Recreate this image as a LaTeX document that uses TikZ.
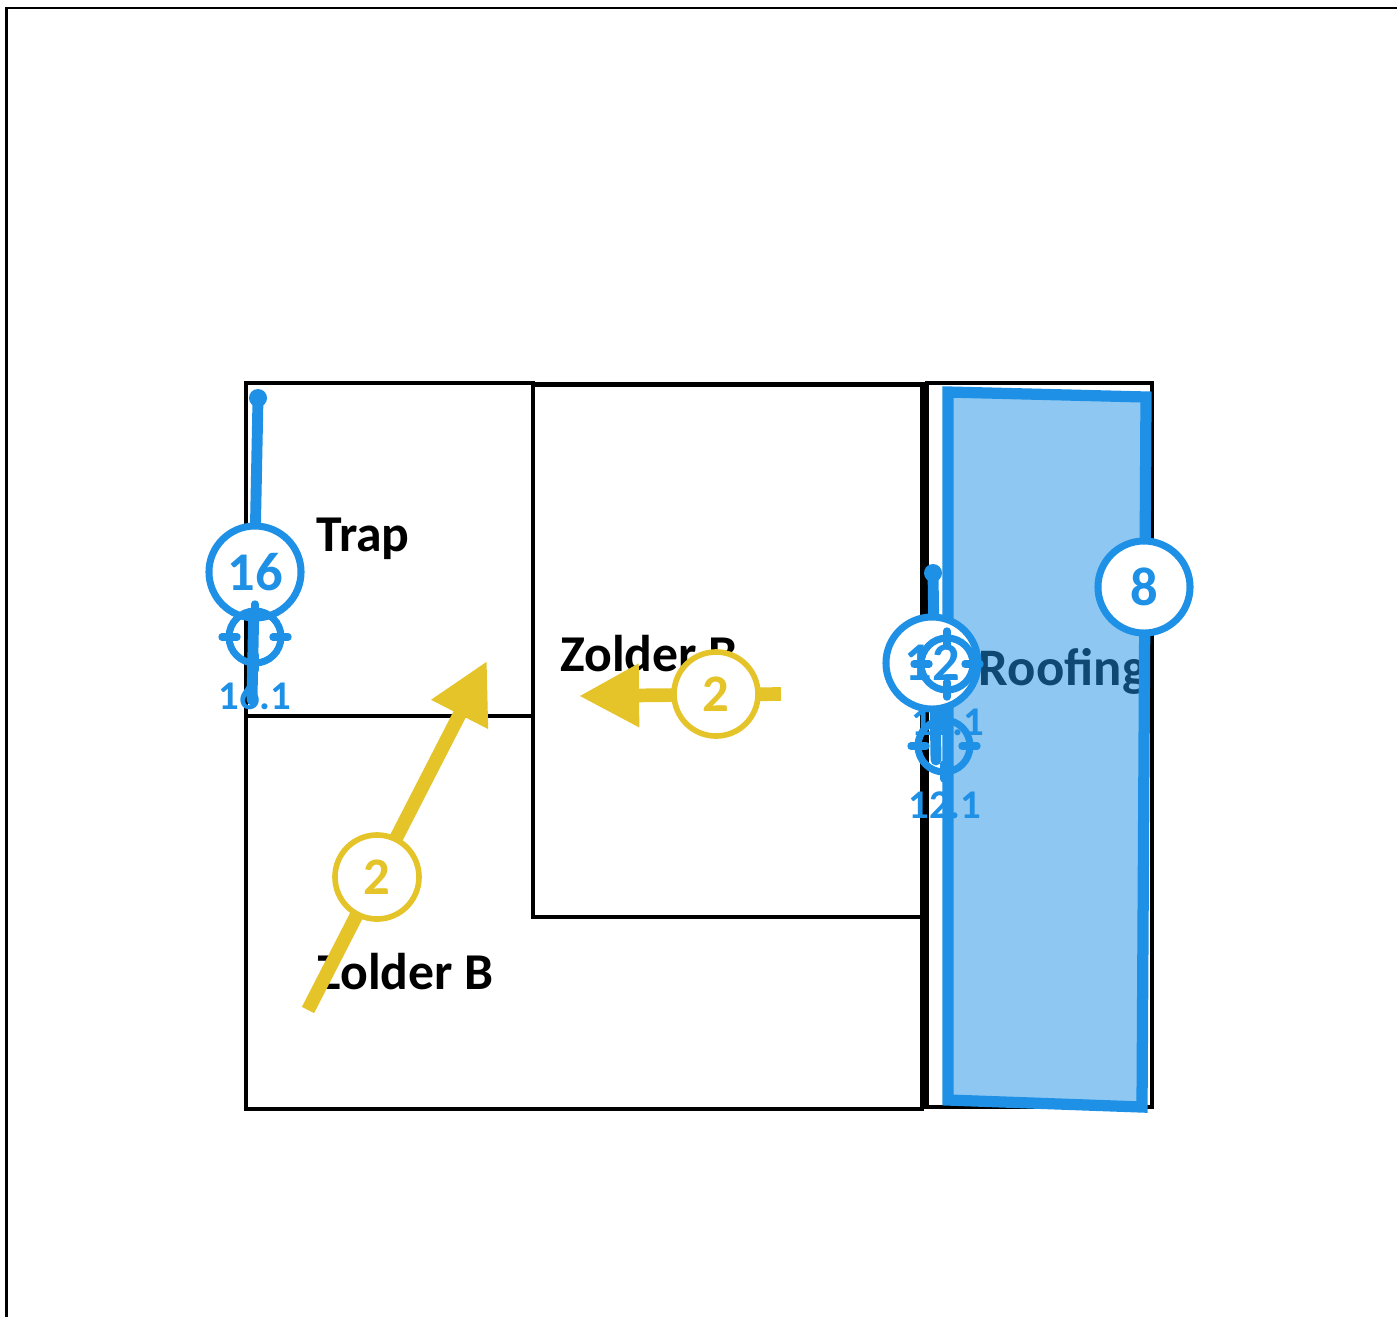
\documentclass[tikz,border=0pt]{standalone}
\usepackage{fontspec}
\setmainfont{Carlito}
\usetikzlibrary{arrows.meta,calc}
\definecolor{planblue}{HTML}{1E90E6}
\definecolor{planyellow}{HTML}{E4C428}
\tikzset{
	room/.style={draw=black,line width=1pt},
	roomlabel/.style={font=\fontsize{14.7}{16}\selectfont\bfseries,text=black,inner sep=0pt},
	bignum/.style={circle,draw=planblue,fill=white,line width=2pt,minimum size=0.92cm,inner sep=0pt,text=planblue,font=\fontsize{15.5}{18}\selectfont\bfseries},
	yelnum/.style={circle,draw=planyellow,fill=white,line width=1.6pt,minimum size=0.84cm,inner sep=0pt,text=planyellow,font=\fontsize{15}{17}\selectfont\bfseries},
	subnum/.style={text=planblue,inner sep=0pt,font=\fontsize{11.6}{14}\selectfont\bfseries},
	aim/.style={circle,draw=planblue,line width=2pt,minimum size=0.52cm,inner sep=0pt},
	tick/.style={draw=planblue,line width=2.1pt,line cap=round},
	measure/.style={draw=planblue,line width=3.1pt,line cap=round},
	pin/.style={circle,fill=planblue,minimum size=0.18cm,inner sep=0pt},
	yelarrow/.style={draw=planyellow,line width=3.9pt,-{Triangle[length=0.6cm,width=0.6cm,fill=planyellow]}}
}
\begin{document}
\begin{tikzpicture}[x=0.01cm,y=-0.01cm]
	\useasboundingbox (0,0) rectangle (1397,1317);

	\draw[line width=0.8pt] (6.5,1317) -- (6.5,8) -- (1397,8);

	% rooms
	\draw[room] (246,383) -- (533,383) -- (533,716) -- (246,716) -- cycle;
	\draw[room] (246,716) -- (533,716) -- (533,917) -- (922,917) -- (922,1109) -- (246,1109) -- cycle;
	\draw[room] (533,385) rectangle (922,917);
	\draw[room] (927,383) rectangle (1152,1107);
	\draw[room,line width=1.4pt] (533,384) -- (927,384);
	\draw[room,line width=2.4pt] (925,384) -- (925,1109);

	\node (trap) at (363,539) [roomlabel] {Trap};
	\node (zolderlow) at (405,972) [roomlabel] {Zolder B};
	\node (zolderhigh) at (649,654) [roomlabel] {Zolder B};
	\node (roofing) at (1063,671) [roomlabel,font=\fontsize{15}{17}\selectfont\bfseries] {Roofing};

	% roof face
	\draw[draw=planblue,fill=planblue,fill opacity=0.5,line width=3.2pt] (948,392) -- (1146,397) -- (1142,1107) -- (948,1100) -- cycle;

	% yellow arrows
	\coordinate (arrowa) at (308,1010);
	\coordinate (arrowatip) at (487,661);
	\coordinate (arrowb) at (781,694);
	\coordinate (arrowbtip) at (579,696);
	\draw[yelarrow] (arrowa) -- (arrowatip);
	\draw[yelarrow] (arrowb) -- (arrowbtip);
	\node (yela) at (377,877) [yelnum] {2};
	\node (yelb) at (716,694) [yelnum] {2};

	% left measure
	\node (pina) at (258,398) [pin] {};
	\coordinate (enda) at (252,700);
	\draw[measure] (pina.center) -- (enda);
	\node (suba) at (255,696) [subnum] {16.1};
	\node (numa) at (255,572) [bignum] {16};
	\node (aima) at (255,637) [aim] {};

	% middle measure
	\node (pinb) at (933,573) [pin] {};
	\coordinate (endb) at (936,760);
	\draw[measure] (pinb.center) -- (endb);
	\node (subb) at (948,722) [subnum] {12.1};
	\node (subc) at (945,805) [subnum] {12.1};
	\node (aimc) at (944,746) [aim] {};
	\node (numb) at (932,663) [bignum] {12};
	\node (aimb) at (947,664) [aim] {};

	\foreach \aimname in {aima,aimb,aimc}
		\foreach \ang in {0,90,180,270}
			\draw[tick] ($(\aimname)+(\ang:33)$) -- ($(\aimname)+(\ang:18)$);

	% roof number
	\node (numc) at (1144,587) [bignum] {8};
\end{tikzpicture}
\end{document}
